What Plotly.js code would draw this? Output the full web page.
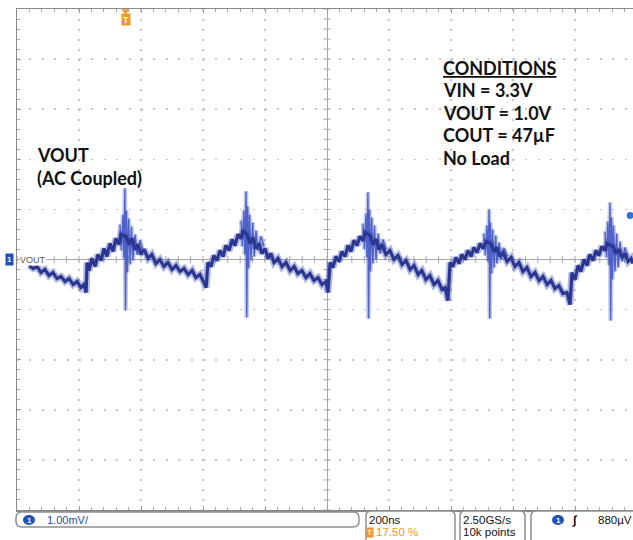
<!DOCTYPE html>
<html><head><meta charset="utf-8">
<script src="https://cdn.plot.ly/plotly-3.0.1.min.js"></script>
<style>html,body{margin:0;padding:0;background:#fff;}#chart{width:633px;height:540px;}</style>
</head><body><div id="chart"></div>
<script>
// ---------------- DATA ----------------
// Scope settings
const TIME_PER_DIV_NS = 200;
const VOLT_PER_DIV_MV = 1.0;
const TRIGGER_POS_PCT = 17.5;
const TRIGGER_LEVEL_MV = 0.88;
const SAMPLE_RATE = '2.50GS/s';
const RECORD_LEN = '10k points';
const CHANNEL_NAME = 'VOUT';
const CONDITIONS_TITLE = 'CONDITIONS';
const CONDITIONS = ['VIN = 3.3V', 'VOUT = 1.0V', 'COUT = 47µF', 'No Load'];
const TRACE_LABEL = ['VOUT', '(AC Coupled)'];

// Main (noisy) ripple trace: time in ns (0 = screen centre), voltage in mV
const timeNs = [-961,-948,-935,-923,-910,-897,-884,-871,-858,-845,-832,-819,-806,-794,-784,-777,
 -774,-768,-758,-748,-739,-729,-719,-710,-700,-690,-681,-671,-665,
 -648,-639,-629,-619,-610,-600,-590,-577,-565,-552,-539,-526,-513,-500,-487,-474,-461,-448,-435,-423,-410,-397,-390,
 -384,-374,-365,-355,-345,-335,-326,-316,-306,-297,-287,-277,-271,
 -258,-248,-239,-229,-219,-210,-200,-190,-181,-171,-158,-145,-132,-119,-106,-94,-81,-68,-55,-42,-29,-16,-3,3,
 10,19,29,39,48,58,68,77,87,97,106,116,123,
 139,148,158,168,177,190,203,216,229,242,255,268,281,294,306,319,332,345,358,371,381,390,
 397,406,416,426,435,445,455,465,474,484,494,503,513,
 529,539,548,558,568,581,594,606,619,632,645,658,671,684,697,710,723,735,748,761,774,784,
 790,800,810,819,829,839,848,858,868,877,887,897,903,
 923,932,942,952,961,971,981,987];
const voutMv = [-0.12,-0.18,-0.14,-0.26,-0.20,-0.32,-0.26,-0.38,-0.34,-0.44,-0.38,-0.50,-0.44,-0.56,-0.50,-0.66,
 -0.06,-0.22,0.02,-0.14,0.10,-0.02,0.22,0.06,0.32,0.16,0.42,0.30,0.50,
 0.46,0.30,0.42,0.20,0.30,0.10,0.20,0.02,0.10,-0.08,0.00,-0.14,-0.06,-0.20,-0.12,-0.24,-0.18,-0.30,-0.22,-0.36,-0.30,-0.46,-0.56,
 -0.06,-0.14,0.08,-0.02,0.18,0.06,0.28,0.18,0.40,0.28,0.50,0.42,0.58,
 0.50,0.32,0.44,0.22,0.32,0.12,0.22,0.02,0.12,-0.06,0.02,-0.14,-0.06,-0.22,-0.14,-0.28,-0.22,-0.36,-0.28,-0.42,-0.36,-0.50,-0.44,-0.66,
 -0.06,-0.16,0.06,-0.04,0.16,0.06,0.28,0.16,0.38,0.28,0.46,0.38,0.54,
 0.48,0.30,0.40,0.20,0.30,0.10,0.18,0.00,0.08,-0.10,-0.02,-0.20,-0.12,-0.30,-0.22,-0.40,-0.32,-0.50,-0.42,-0.60,-0.56,-0.82,
 -0.06,-0.14,0.04,-0.08,0.10,0.00,0.18,0.06,0.24,0.14,0.32,0.22,0.36,
 0.32,0.16,0.24,0.06,0.14,-0.04,0.04,-0.14,-0.06,-0.24,-0.16,-0.34,-0.26,-0.42,-0.34,-0.50,-0.42,-0.58,-0.52,-0.68,-0.66,-0.90,
 -0.26,-0.40,-0.12,-0.24,0.00,-0.12,0.10,-0.02,0.18,0.08,0.26,0.18,0.32,
 0.26,0.12,0.20,0.04,0.12,-0.04,0.02,-0.08];

// Switching spikes (ringing) at each ripple peak
const spike1T = [-668,-663,-658,-655,-652,-650,-647,-644,-640,-635,-631,-626,-619,-613,-603,-594];
const spike1V = [0.70,0.18,0.90,0.02,1.42,-1.02,0.98,-0.26,0.82,-0.10,0.66,-0.02,0.50,0.10,0.38,0.18];
const spike2T = [-277,-273,-268,-265,-261,-259,-256,-253,-250,-245,-240,-235,-229,-223,-213,-203];
const spike2V = [0.78,0.26,0.98,0.10,1.36,-1.16,1.06,-0.18,0.90,-0.02,0.74,0.06,0.58,0.18,0.46,0.26];
const spike3T = [116,121,126,129,132,134,137,140,144,148,153,158,165,171,181,190];
const spike3V = [0.72,0.20,0.92,0.04,1.34,-1.18,1.00,-0.24,0.84,-0.08,0.68,0.00,0.52,0.12,0.40,0.20];
const spike4T = [506,511,516,519,523,525,527,531,534,539,544,548,555,561,571,581];
const spike4V = [0.52,0.08,0.68,-0.04,1.00,-1.18,0.74,-0.28,0.60,-0.16,0.48,-0.08,0.34,0.00,0.22,0.06];
const spike5T = [897,902,906,910,913,915,918,921,924,929,934,939,945,952,961,971];
const spike5V = [0.56,0.04,0.76,-0.12,1.14,-1.22,0.84,-0.40,0.68,-0.24,0.52,-0.16,0.36,-0.04,0.24,0.04];

// ---------------- GEOMETRY / STYLE ----------------
const W = 633, H = 540;
const plotLeft = 17, plotTop = 9, plotBottom = 510;
const pxPerDivX = 62;
const visibleDivs = (W - plotLeft) / pxPerDivX;
const X0 = -5 * TIME_PER_DIV_NS;
const xRange = [X0, X0 + visibleDivs * TIME_PER_DIV_NS];
const yRange = [-5 * VOLT_PER_DIV_MV, 5 * VOLT_PER_DIV_MV];
const trigT = X0 + TRIGGER_POS_PCT / 100 * 10 * TIME_PER_DIV_NS;

const pw = W - plotLeft, ph = plotBottom - plotTop;
const px = x => (x - plotLeft) / pw;
const py = y => (plotBottom - y) / ph;

const TRACE_BLUE = '#2a3690';
const HALO_BLUE = 'rgba(60,78,180,0.40)';
const RING_BLUE = 'rgba(66,86,196,0.9)';
const RING_HALO = 'rgba(80,100,200,0.35)';
const ORANGE = '#f0962a';
const CH_BLUE = '#1f4fb8';
const GRID = '#c4c4c4';
const AXIS_GREY = '#a6a6a6';

// centre crosshair minor tick marks
const cxT = [], cxV = [], cyT = [], cyV = [];
for (let k = -25; k <= 25; k++) { cxT.push(k * TIME_PER_DIV_NS / 5); cxV.push(0); }
for (let k = -25; k <= 25; k++) { cyT.push(0); cyV.push(k * VOLT_PER_DIV_MV / 5); }

const traces = [
  {x: cxT, y: cxV, mode: 'markers', hoverinfo: 'skip',
   marker: {symbol: 'line-ns', size: 5, color: AXIS_GREY, line: {width: 1, color: AXIS_GREY}}},
  {x: cyT, y: cyV, mode: 'markers', hoverinfo: 'skip',
   marker: {symbol: 'line-ew', size: 5, color: AXIS_GREY, line: {width: 1, color: AXIS_GREY}}},
];
const spikes = [[spike1T, spike1V], [spike2T, spike2V], [spike3T, spike3V], [spike4T, spike4V], [spike5T, spike5V]];
spikes.forEach(([t, v]) => {
  traces.push({x: t, y: v, mode: 'lines', hoverinfo: 'skip', line: {color: RING_HALO, width: 4.5}});
});
traces.push({x: timeNs, y: voutMv, mode: 'lines', hoverinfo: 'skip', line: {color: HALO_BLUE, width: 7}});
spikes.forEach(([t, v]) => {
  traces.push({x: t, y: v, mode: 'lines', hoverinfo: 'skip', line: {color: RING_BLUE, width: 1.4}});
});
traces.push({x: timeNs, y: voutMv, mode: 'lines', name: CHANNEL_NAME,
  line: {color: TRACE_BLUE, width: 3.2}});
// trigger position marker (top) and trigger level marker (right edge)
traces.push({x: [trigT], y: [yRange[1] - 0.04], mode: 'markers', cliponaxis: false, hoverinfo: 'skip',
  marker: {symbol: 'triangle-down', size: 7, color: ORANGE}});
traces.push({x: [xRange[1] - 9], y: [TRIGGER_LEVEL_MV], mode: 'markers', cliponaxis: false, hoverinfo: 'skip',
  marker: {symbol: 'circle', size: 7, color: '#3572d6'}});

function rrect(x0, y0, x1, y1, r) {
  const P = (x, y) => px(x).toFixed(5) + ',' + py(y).toFixed(5);
  return 'M' + P(x0 + r, y0) + ' L' + P(x1 - r, y0) + ' Q' + P(x1, y0) + ' ' + P(x1, y0 + r) +
    ' L' + P(x1, y1 - r) + ' Q' + P(x1, y1) + ' ' + P(x1 - r, y1) +
    ' L' + P(x0 + r, y1) + ' Q' + P(x0, y1) + ' ' + P(x0, y1 - r) +
    ' L' + P(x0, y0 + r) + ' Q' + P(x0, y0) + ' ' + P(x0 + r, y0) + ' Z';
}
const boxLine = {color: '#8f8f8f', width: 1.5};
const shapes = [
  {type: 'path', xref: 'paper', yref: 'paper', path: rrect(16, 512, 359, 527, 6), fillcolor: '#fff', line: boxLine},
  {type: 'path', xref: 'paper', yref: 'paper', path: rrect(366, 511, 455, 548, 5), fillcolor: '#fff', line: boxLine},
  {type: 'path', xref: 'paper', yref: 'paper', path: rrect(460, 511, 525, 548, 5), fillcolor: '#fff', line: boxLine},
  {type: 'path', xref: 'paper', yref: 'paper', path: rrect(531, 511, 650, 548, 5), fillcolor: '#fff', line: boxLine},
  {type: 'circle', xref: 'paper', yref: 'paper', x0: px(23), x1: px(35), y0: py(525), y1: py(515), fillcolor: CH_BLUE, line: {width: 0}},
  {type: 'circle', xref: 'paper', yref: 'paper', x0: px(552), x1: px(564), y0: py(525), y1: py(515), fillcolor: CH_BLUE, line: {width: 0}},
];

const bigFont = {family: 'Lato, "Open Sans", sans-serif', size: 18, color: '#111'};
const smallFont = (c, s) => ({family: '"Liberation Sans", Arial, sans-serif', size: s || 11.5, color: c || '#111'});
const ann = (x, y, text, font, extra) => Object.assign({xref: 'paper', yref: 'paper', x: px(x), y: py(y),
  xanchor: 'left', yanchor: 'middle', text: text, showarrow: false, font: font, borderpad: 0}, extra || {});

const annotations = [
  ann(36, 155, '<b>' + TRACE_LABEL[0] + '</b>', bigFont),
  ann(36, 178, '<b>' + TRACE_LABEL[1] + '</b>', bigFont),
  ann(442, 68, '<b><u>' + CONDITIONS_TITLE + '</u></b>', bigFont),
];
CONDITIONS.forEach((s, i) => annotations.push(ann(442, 90 + i * 22.7, '<b>' + s + '</b>', bigFont)));
// channel marker on left edge
annotations.push({xref: 'paper', yref: 'y', x: px(9), y: 0, xanchor: 'center', yanchor: 'middle', showarrow: false,
  text: '<b>1</b>', font: {family: 'Liberation Sans', size: 8, color: '#fff'}, bgcolor: CH_BLUE, width: 7, height: 11, borderpad: 0});
annotations.push({xref: 'paper', yref: 'y', x: px(19), y: 0, xanchor: 'left', yanchor: 'middle', showarrow: false,
  text: CHANNEL_NAME, font: {family: '"Liberation Sans", Arial, sans-serif', size: 9, color: '#555'}, bgcolor: '#fff', borderpad: 0});
// trigger position "T" marker
annotations.push({xref: 'x', yref: 'paper', x: trigT, y: py(19.5), xanchor: 'center', yanchor: 'middle', showarrow: false,
  text: '<b>T</b>', font: {family: 'Liberation Sans', size: 9, color: '#fff'}, bgcolor: ORANGE, width: 8, height: 11, borderpad: 0});
// status bar texts
annotations.push(ann(29, 520, '<b>1</b>', smallFont('#fff', 8), {xanchor: 'center'}));
annotations.push(ann(46, 520, VOLT_PER_DIV_MV.toFixed(2) + 'mV/', smallFont('#2a48a8', 11)));
annotations.push(ann(368, 520, TIME_PER_DIV_NS + 'ns', smallFont('#111')));
annotations.push(ann(370, 532, '<b>T</b>', smallFont('#fff', 7), {xanchor: 'center', bgcolor: ORANGE, width: 6, height: 9}));
annotations.push(ann(375, 532, TRIGGER_POS_PCT.toFixed(2) + ' %', smallFont(ORANGE)));
annotations.push(ann(462, 520, SAMPLE_RATE, smallFont('#111')));
annotations.push(ann(462, 532, RECORD_LEN, smallFont('#111')));
annotations.push(ann(558, 520, '<b>1</b>', smallFont('#fff', 8), {xanchor: 'center'}));
annotations.push(ann(575, 520, '<b>∫</b>', smallFont('#111', 12), {xanchor: 'center'}));
annotations.push(ann(633, 520, Math.round(TRIGGER_LEVEL_MV * 1000) + 'µV', smallFont('#111'), {xanchor: 'right'}));

const layout = {
  width: W, height: H,
  margin: {l: plotLeft, r: 0, t: plotTop, b: H - plotBottom, pad: 0},
  paper_bgcolor: '#fff', plot_bgcolor: '#fff', showlegend: false,
  xaxis: {range: xRange, tick0: 0, dtick: TIME_PER_DIV_NS, showticklabels: false,
    showgrid: true, gridcolor: GRID, gridwidth: 1.6, griddash: '2px,8px',
    zeroline: true, zerolinecolor: AXIS_GREY, zerolinewidth: 1,
    showline: true, linecolor: '#8a8a8a', linewidth: 1.5, mirror: 'ticks',
    ticks: 'inside', ticklen: 4, tickcolor: '#9c9c9c', tickwidth: 1,
    minor: {dtick: TIME_PER_DIV_NS / 5, tick0: 0, ticks: 'inside', ticklen: 3, tickcolor: '#a8a8a8', showgrid: false},
    fixedrange: true},
  yaxis: {range: yRange, tick0: 0, dtick: VOLT_PER_DIV_MV, showticklabels: false,
    showgrid: true, gridcolor: GRID, gridwidth: 1.6, griddash: '2px,10.4px',
    zeroline: true, zerolinecolor: AXIS_GREY, zerolinewidth: 1,
    showline: true, linecolor: '#8a8a8a', linewidth: 1.5, mirror: false,
    ticks: 'inside', ticklen: 4, tickcolor: '#9c9c9c', tickwidth: 1,
    minor: {dtick: VOLT_PER_DIV_MV / 5, tick0: 0, ticks: 'inside', ticklen: 3, tickcolor: '#a8a8a8', showgrid: false},
    fixedrange: true},
  shapes: shapes, annotations: annotations
};
Plotly.newPlot('chart', traces, layout, {displayModeBar: false, staticPlot: true});
</script></body></html>
